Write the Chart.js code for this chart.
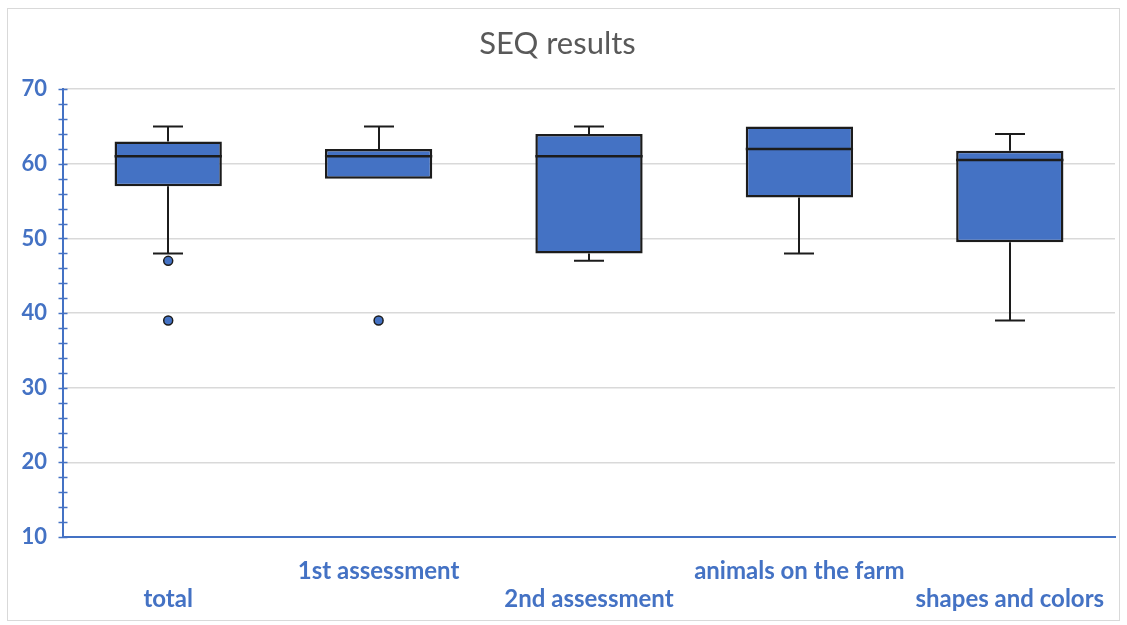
<!DOCTYPE html>
<html>
<head>
<meta charset="utf-8">
<title>SEQ results</title>
<script src="https://cdn.jsdelivr.net/npm/chart.js@4.4.1/dist/chart.umd.min.js"></script>
<style>
  html, body { margin: 0; padding: 0; background: #ffffff; }
  #c { position: absolute; left: 0; top: 0; }
</style>
</head>
<body>
<canvas id="c" width="1127" height="625"></canvas>
<script>
// Box-plot summary per group
const categories  = ['total', '1st assessment', '2nd assessment', 'animals on the farm', 'shapes and colors'];
const whiskerLow  = [48, 58, 47, 48, 39];
const q1          = [57, 58, 48, 55.5, 49.5];
const median      = [61, 61, 61, 62, 60.5];
const q3          = [63, 62, 64, 65, 61.75];
const whiskerHigh = [65, 65, 65, 65, 64];
const outliers    = [[47, 39], [39], [], [], []];
const yTicks      = { min: 10, max: 70, minorStep: 2, majorStep: 10 };

const BLUE = '#4472C4';
const DARK = '#1c1c1c';

// Floating bars span Q1..Q3; outliers are plotted as points
const boxData = categories.map((c, i) => [q1[i], q3[i]]);
const outlierData = [];
outliers.forEach((list, i) => list.forEach(v => outlierData.push({ x: categories[i], y: v })));

// Whiskers, caps and median lines, placed through the chart's scales
const boxPlotParts = {
  id: 'boxPlotParts',
  beforeDatasetsDraw(chart) {
    const meta = chart.getDatasetMeta(0);
    const y = chart.scales.y;
    const ctx = chart.ctx;
    ctx.save();
    ctx.strokeStyle = DARK;
    ctx.lineWidth = 2;
    meta.data.forEach((bar, i) => {
      const x = Math.round(bar.x);
      const capHalf = 15;
      ctx.beginPath();
      if (whiskerHigh[i] > q3[i]) {
        const yHi = y.getPixelForValue(whiskerHigh[i]);
        ctx.moveTo(x, y.getPixelForValue(q3[i])); ctx.lineTo(x, yHi);
        ctx.moveTo(x - capHalf, yHi); ctx.lineTo(x + capHalf, yHi);
      }
      if (whiskerLow[i] < q1[i]) {
        const yLo = y.getPixelForValue(whiskerLow[i]);
        ctx.moveTo(x, y.getPixelForValue(q1[i])); ctx.lineTo(x, yLo);
        ctx.moveTo(x - capHalf, yLo); ctx.lineTo(x + capHalf, yLo);
      }
      ctx.stroke();
    });
    ctx.restore();
  },
  afterDatasetDraw(chart, args) {
    if (args.index !== 0) return;
    const meta = chart.getDatasetMeta(0);
    const y = chart.scales.y;
    const ctx = chart.ctx;
    ctx.save();
    ctx.strokeStyle = DARK;
    ctx.lineWidth = 2.5;
    meta.data.forEach((bar, i) => {
      const ym = y.getPixelForValue(median[i]);
      ctx.beginPath();
      ctx.moveTo(bar.x - bar.width / 2, ym);
      ctx.lineTo(bar.x + bar.width / 2, ym);
      ctx.stroke();
    });
    ctx.restore();
  }
};

// Tick marks crossing the value axis, and the outer frame
const axisDecor = {
  id: 'axisDecor',
  beforeDraw(chart) {
    const ctx = chart.ctx;
    ctx.save();
    ctx.strokeStyle = '#d9d9d9';
    ctx.lineWidth = 1;
    ctx.strokeRect(7.5, 8.5, 1112, 612);
    ctx.restore();
  },
  afterDraw(chart) {
    const y = chart.scales.y;
    const ax = chart.chartArea.left;
    const ctx = chart.ctx;
    ctx.save();
    ctx.strokeStyle = BLUE;
    ctx.lineWidth = 1.5;
    y.ticks.forEach(t => {
      const py = Math.round(y.getPixelForValue(t.value)) + 0.5;
      ctx.beginPath();
      ctx.moveTo(ax - 4.5, py);
      ctx.lineTo(ax + 4.5, py);
      ctx.stroke();
    });
    ctx.restore();
  }
};

new Chart(document.getElementById('c'), {
  data: {
    labels: categories,
    datasets: [
      {
        type: 'bar',
        data: boxData,
        backgroundColor: BLUE,
        borderColor: DARK,
        borderWidth: 2.5,
        borderSkipped: false,
        barPercentage: 0.51,
        categoryPercentage: 1.0,
        order: 2
      },
      {
        type: 'scatter',
        data: outlierData,
        backgroundColor: BLUE,
        borderColor: DARK,
        borderWidth: 1.5,
        pointRadius: 4.5,
        order: 1
      }
    ]
  },
  plugins: [boxPlotParts, axisDecor],
  options: {
    responsive: false,
    animation: false,
    devicePixelRatio: 1,
    layout: { padding: { left: 0, right: 12, top: 0, bottom: 0 } },
    plugins: {
      legend: { display: false },
      tooltip: { enabled: false },
      title: {
        display: true,
        text: 'SEQ results',
        color: '#595959',
        font: { family: 'Lato', size: 31, weight: 'normal' },
        padding: { top: 25, bottom: 27 }
      }
    },
    scales: {
      x: {
        type: 'category',
        offset: true,
        grid: { display: true, drawOnChartArea: false, drawTicks: false },
        border: { display: true, color: BLUE, width: 2 },
        ticks: {
          autoSkip: false,
          maxRotation: 0,
          minRotation: 0,
          padding: 20,
          color: BLUE,
          font: { family: 'Lato', size: 24, weight: 'bold', lineHeight: 1.18 },
          callback: function (value, index) {
            const label = this.getLabelForValue(value);
            return index % 2 === 0 ? ['', label] : label;
          }
        },
        afterFit(scale) { scale.height = 88; }
      },
      y: {
        min: yTicks.min,
        max: yTicks.max,
        grid: {
          drawTicks: false,
          lineWidth: 1.5,
          color: ctx => (ctx.tick && ctx.tick.value % yTicks.majorStep === 0) ? '#d9d9d9' : 'rgba(0,0,0,0)'
        },
        border: { display: true, color: BLUE, width: 2 },
        ticks: {
          stepSize: yTicks.minorStep,
          autoSkip: false,
          padding: 16,
          color: BLUE,
          font: { family: 'Lato', size: 22, weight: 'bold' },
          callback: v => (v % yTicks.majorStep === 0 ? v : '')
        },
        afterFit(scale) { scale.width = 63; }
      }
    }
  }
});
</script>
</body>
</html>
